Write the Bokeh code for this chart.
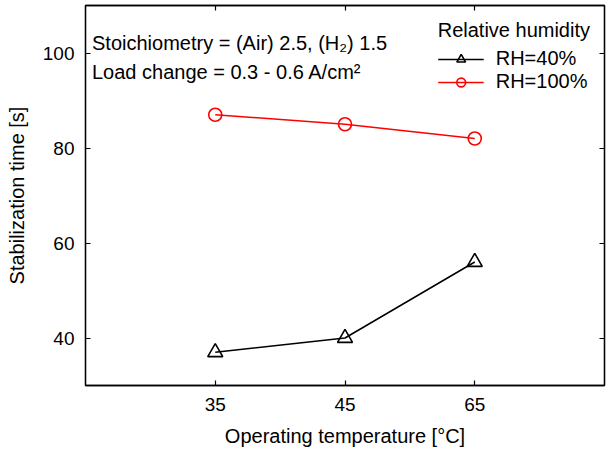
from bokeh.plotting import figure
from bokeh.models import (FactorRange, Range1d, FixedTicker, LinearAxis, CategoricalAxis,
                          Label, CustomJSTickFormatter)
from bokeh.embed import file_html
from bokeh.resources import INLINE

temps = ["35", "45", "65"]
rh40 = [37, 40, 56]
rh100 = [87, 85, 82]
y_ticks = [40, 60, 80, 100]

FONT = "Liberation Sans"
FS = "19px"
FL = "20px"

p = figure(width=610, height=458, output_backend="svg", toolbar_location=None,
           x_range=FactorRange(factors=temps, range_padding=0.5, range_padding_units="absolute"),
           y_range=Range1d(30, 110),
           min_border_left=85, min_border_right=6, min_border_top=5, min_border_bottom=73)

p.xgrid.visible = False
p.ygrid.visible = False
p.outline_line_color = "black"
p.outline_line_width = 1.3
p.background_fill_color = "white"
p.border_fill_color = "white"

def style_axis(ax, labels=True):
    ax.major_tick_in = 5
    ax.major_tick_out = 0
    ax.minor_tick_in = 0
    ax.minor_tick_out = 0
    ax.axis_line_color = "black"
    ax.axis_line_width = 1.3
    ax.major_tick_line_color = "black"
    ax.major_tick_line_width = 1.2
    ax.major_label_text_font = FONT
    ax.major_label_text_font_size = FS
    ax.major_label_text_color = "black"
    ax.axis_label_text_font = FONT
    ax.axis_label_text_font_size = FL
    ax.axis_label_text_font_style = "normal"
    ax.axis_label_text_color = "black"
    if not labels:
        ax.major_label_standoff = 0

xa = p.xaxis[0]
ya = p.yaxis[0]
ya.ticker = FixedTicker(ticks=y_ticks)
style_axis(xa)
style_axis(ya)
xa.axis_label = "Operating temperature [°C]"
ya.axis_label = "Stabilization time [s]"
xa.major_label_standoff = 12
xa.axis_label_standoff = 11
ya.major_label_standoff = 11
ya.axis_label_standoff = 12

top = CategoricalAxis(formatter=CustomJSTickFormatter(code="return ''"))
style_axis(top, labels=False)
p.add_layout(top, "above")
right = LinearAxis(ticker=FixedTicker(ticks=y_ticks),
                   major_label_overrides={v: "" for v in y_ticks})
style_axis(right, labels=False)
p.add_layout(right, "right")

p.line(temps, rh40, line_color="black", line_width=1.5, legend_label="RH=40%")
p.scatter(temps, rh40, marker="triangle", size=15, line_color="black", line_width=1.6,
          fill_color=None, legend_label="RH=40%")
p.line(temps, rh100, line_color="red", line_width=1.5, legend_label="RH=100%")
p.scatter(temps, rh100, marker="circle", size=13, line_color="red", line_width=1.6,
          fill_color=None, legend_label="RH=100%")

# x given in the factor range's synthetic coordinates (left frame edge = -0.5)
for x, y, t in [(-0.45, 102.1, "Stoichiometry = (Air) 2.5, (H₂) 1.5"),
                (-0.45, 95.9, "Load change = 0.3 - 0.6 A/cm²")]:
    p.add_layout(Label(x=x, y=y, text=t, text_font=FONT,
                       text_font_size=FL, text_color="black",
                       text_baseline="alphabetic"))

lg = p.legend[0]
lg.title = "Relative humidity"
lg.title_text_font = FONT
lg.title_text_font_size = FL
lg.title_text_font_style = "normal"
lg.title_text_color = "black"
lg.title_standoff = 5
lg.label_text_font = FONT
lg.label_text_font_size = FL
lg.label_text_color = "black"
lg.location = "top_right"
lg.border_line_color = None
lg.background_fill_alpha = 0
lg.padding = 0
lg.margin = 14
lg.glyph_width = 46
lg.glyph_height = 22
lg.label_standoff = 12
lg.spacing = 0
lg.label_height = 22

open("out.html", "w").write(file_html(p, INLINE))
